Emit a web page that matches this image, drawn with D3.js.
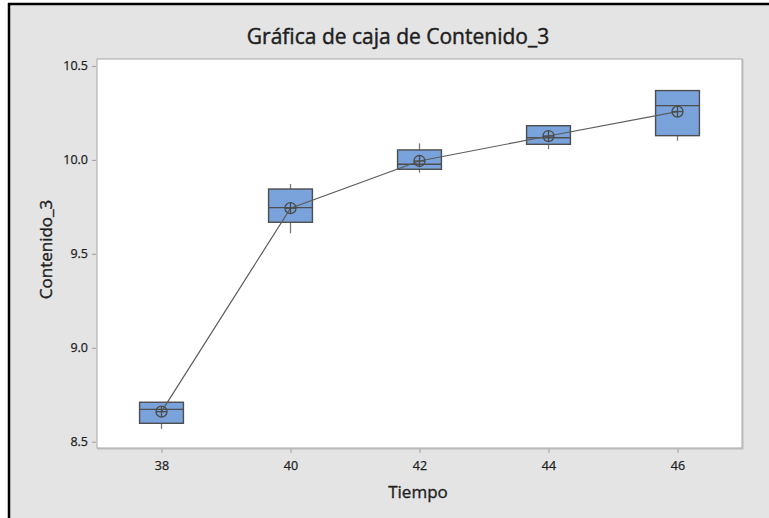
<!DOCTYPE html>
<html>
<head>
<meta charset="utf-8">
<script src="https://cdn.jsdelivr.net/npm/d3@7"></script>
<style>
  html, body { margin: 0; padding: 0; background: #ffffff; }
  svg { display: block; }
</style>
</head>
<body>
<svg id="chart" width="769" height="518"></svg>
<script>
// Boxplot summary per time level
const tiempo      = [38, 40, 42, 44, 46];
const whiskerLow  = [8.568, 9.609, 9.932, 10.057, 10.102];
const q1          = [8.598, 9.668, 9.950, 10.083, 10.129];
const mediana     = [8.672, 9.746, 9.977, 10.118, 10.289];
const q3          = [8.710, 9.845, 10.053, 10.182, 10.369];
const whiskerHigh = [8.710, 9.872, 10.088, 10.182, 10.369];
const media       = [8.660, 9.743, 9.994, 10.127, 10.257];

const yTicks = [8.5, 9.0, 9.5, 10.0, 10.5];
const xTicks = [38, 40, 42, 44, 46];

const W = 769, H = 518;
const plot = { left: 97, right: 742, top: 59, bottom: 448 };

const svg = d3.select("#chart");

// outer frame
svg.append("rect").attr("x", 0).attr("y", 0).attr("width", W).attr("height", H).attr("fill", "#ffffff");
svg.append("rect").attr("x", 9).attr("y", 4).attr("width", W - 9).attr("height", H - 4).attr("fill", "#e4e4e4");
svg.append("line").attr("x1", 9).attr("x2", 9).attr("y1", 3).attr("y2", H)
  .attr("stroke", "#000").attr("stroke-width", 2.5);
svg.append("line").attr("x1", 8).attr("x2", W).attr("y1", 4).attr("y2", 4)
  .attr("stroke", "#000").attr("stroke-width", 2.5);

const x = d3.scaleLinear().domain([37, 47]).range([plot.left, plot.right]);
const y = d3.scaleLinear().domain([8.4665, 10.537]).range([plot.bottom, plot.top]);

// data region
svg.append("rect")
  .attr("x", plot.left + 1).attr("y", plot.top + 1)
  .attr("width", plot.right - plot.left).attr("height", plot.bottom - plot.top)
  .attr("fill", "none").attr("stroke", "#c8c8c8").attr("stroke-width", 1.5);
svg.append("rect")
  .attr("x", plot.left).attr("y", plot.top)
  .attr("width", plot.right - plot.left).attr("height", plot.bottom - plot.top)
  .attr("fill", "#ffffff").attr("stroke", "#a6a6a6").attr("stroke-width", 1);

const font = "'Open Sans', 'Noto Sans', sans-serif";
const ink = "#1e1e1e";

// axes
const yAxis = svg.append("g")
  .attr("transform", `translate(${plot.left - 1},0)`)
  .call(d3.axisLeft(y).tickValues(yTicks).tickFormat(d3.format(".1f")).tickSizeOuter(0).tickSize(4).tickPadding(4));
const xAxis = svg.append("g")
  .attr("transform", `translate(0,${plot.bottom + 1})`)
  .call(d3.axisBottom(x).tickValues(xTicks).tickFormat(d3.format("d")).tickSizeOuter(0).tickSize(4).tickPadding(8));
[yAxis, xAxis].forEach(g => {
  g.select(".domain").remove();
  g.selectAll(".tick line").attr("stroke", "#a0a0a0");
  g.selectAll(".tick text").attr("fill", ink).attr("stroke", ink).attr("stroke-width", 0.25)
    .style("font-family", font).style("font-size", "12.5px");
});

// title and axis labels (light stroke gives a medium weight)
svg.append("text").attr("x", 398).attr("y", 44).attr("text-anchor", "middle")
  .style("font-family", font).style("font-size", "21px")
  .attr("fill", ink).attr("stroke", ink).attr("stroke-width", 0.45)
  .text("Gráfica de caja de Contenido_3");
svg.append("text").attr("x", 418).attr("y", 498).attr("text-anchor", "middle")
  .style("font-family", font).style("font-size", "17px")
  .attr("fill", ink).attr("stroke", ink).attr("stroke-width", 0.35)
  .text("Tiempo");
svg.append("text").attr("transform", `translate(52,${(plot.top + plot.bottom) / 2 - 4}) rotate(-90)`)
  .attr("text-anchor", "middle")
  .style("font-family", font).style("font-size", "17px")
  .attr("fill", ink).attr("stroke", ink).attr("stroke-width", 0.35)
  .text("Contenido_3");

const data = tiempo.map((t, i) => ({
  t, lo: whiskerLow[i], q1: q1[i], med: mediana[i], q3: q3[i], hi: whiskerHigh[i], mean: media[i]
}));

const boxHalf = (x(38.34) - x(38));
const edge = "#4e4e4e";

const g = svg.append("g");
// whiskers
g.selectAll(".wlo").data(data).join("line")
  .attr("x1", d => x(d.t)).attr("x2", d => x(d.t))
  .attr("y1", d => y(d.q1)).attr("y2", d => y(d.lo))
  .attr("stroke", "#7a7a7a").attr("stroke-width", 1.3);
g.selectAll(".whi").data(data).join("line")
  .attr("x1", d => x(d.t)).attr("x2", d => x(d.t))
  .attr("y1", d => y(d.q3)).attr("y2", d => y(d.hi))
  .attr("stroke", "#7a7a7a").attr("stroke-width", 1.3);
// boxes
g.selectAll(".box").data(data).join("rect")
  .attr("x", d => x(d.t) - boxHalf).attr("width", boxHalf * 2)
  .attr("y", d => y(d.q3)).attr("height", d => y(d.q1) - y(d.q3))
  .attr("fill", "#79a3da").attr("stroke", edge).attr("stroke-width", 1.4);
// medians
g.selectAll(".med").data(data).join("line")
  .attr("x1", d => x(d.t) - boxHalf).attr("x2", d => x(d.t) + boxHalf)
  .attr("y1", d => y(d.med)).attr("y2", d => y(d.med))
  .attr("stroke", edge).attr("stroke-width", 1.4);

// mean connect line
g.append("path").datum(data)
  .attr("d", d3.line().x(d => x(d.t)).y(d => y(d.mean)))
  .attr("fill", "none").attr("stroke", "#5c5c5c").attr("stroke-width", 1.2);

// mean symbols: circle with cross
const r = 5.5;
const sym = g.selectAll(".mean").data(data).join("g")
  .attr("transform", d => `translate(${x(d.t)},${y(d.mean)})`);
sym.append("circle").attr("r", r).attr("fill", "none").attr("stroke", "#4a4a4a").attr("stroke-width", 1.3);
sym.append("line").attr("x1", -r).attr("x2", r).attr("stroke", "#4a4a4a").attr("stroke-width", 1.3);
sym.append("line").attr("y1", -r).attr("y2", r).attr("stroke", "#4a4a4a").attr("stroke-width", 1.3);
</script>
</body>
</html>
